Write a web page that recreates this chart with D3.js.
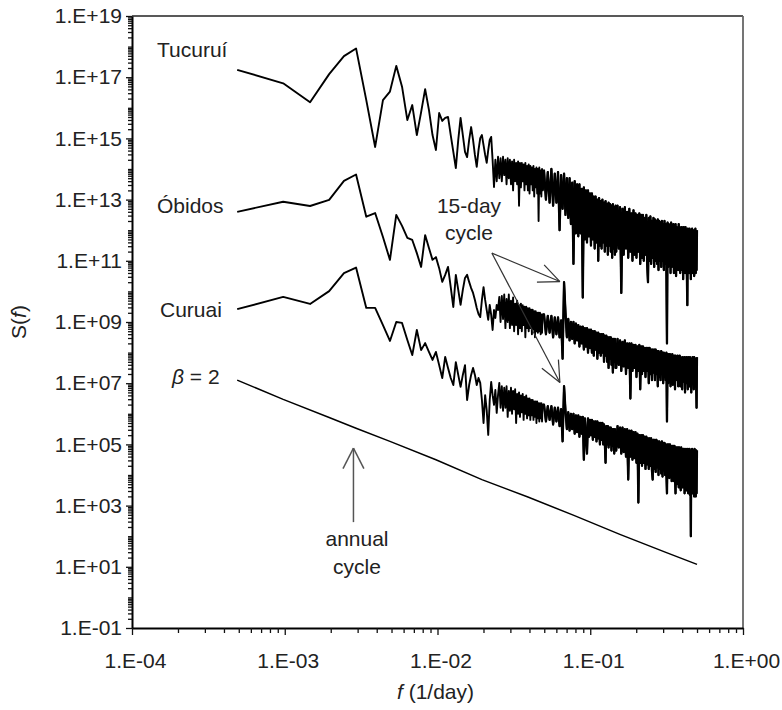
<!DOCTYPE html>
<html><head><meta charset="utf-8">
<script src="https://cdn.jsdelivr.net/npm/d3@7"></script>
<style>
body{margin:0;background:#fff}
text{font-family:"Liberation Sans",Arial,sans-serif;fill:#222}
</style>
</head><body>
<svg id="c" width="782" height="710"></svg>
<script>
// ---------- DATA ----------
// spectra are given as log10 S(f); harmonic k <-> f = k / RECORD_DAYS (1/day)
const RECORD_DAYS = 2048;
const MID_START = 102, MID_STEP = 3;     // harmonics of the "mid" arrays
const HIGH_START = 303, HIGH_STEP = 6;   // harmonics of the "high" arrays

const xTickLabels = ["1.E-04","1.E-03","1.E-02","1.E-01","1.E+00"];
const yTickLabels = ["1.E-01","1.E+01","1.E+03","1.E+05","1.E+07","1.E+09","1.E+11","1.E+13","1.E+15","1.E+17","1.E+19"];
const seriesNames = ["Tucuruí","Óbidos","Curuai"];

// Tucuruí: k = 1..100
const tucLow = [
17.24,16.80,16.18,17.10,17.69,17.94,16.25,14.72,16.25,16.53,
17.37,16.69,15.60,16.09,15.11,15.86,16.61,15.93,15.11,14.62,
15.83,15.57,15.67,15.70,15.11,14.56,14.03,14.95,15.67,15.11,
14.56,14.39,14.95,15.37,14.95,14.46,14.07,14.62,15.01,15.11,
14.78,14.46,14.20,14.62,14.95,15.05,14.29,13.41,14.3,13.6,
14.4,13.7,14.35,13.6,14.4,13.8,14.3,13.5,14.35,13.7,
14.3,13.5,14.25,13.3,14.3,13.6,14.2,13.5,14.25,12.8,
14.2,13.4,14.2,13.6,14.15,13.3,14.2,13.5,14.1,13.3,
14.15,13.2,14.1,13.5,14.05,13.3,14.1,13.1,14.0,13.4,
14.05,13.2,14.0,12.3,14.05,13.2,13.95,13.1,14.0,13.3];
const tucMid = [
13.95,13.0,13.9,12.9,14.0,12.8,13.85,12.9,13.9,12.0,
13.8,12.7,13.85,12.5,13.7,12.4,13.7,12.2,13.55,10.9,
13.6,11.9,13.5,11.8,13.5,11.9,13.35,9.8,13.4,11.7,
13.3,11.6,13.3,11.8,13.2,11.5,13.2,11.7,13.1,11.4,
13.1,11.6,13.0,11.0,13.05,11.5,12.95,11.4,13.0,11.6,
12.9,11.3,12.95,11.5,12.85,11.2,12.9,11.5,12.85,11.3,
12.8,11.1,12.85,11.4,12.75,11.2,12.8];
const tucHigh = [
11.3,12.8,11.4,12.75,9.95,12.7,11.2,12.75,11.4,12.6,
11.1,12.7,11.3,12.55,11.0,12.65,11.2,12.55,11.1,12.5,
11.3,12.55,10.9,12.5,11.1,12.5,11.0,12.4,11.2,12.5,
10.9,10.3,12.4,11.0,12.45,10.9,12.3,11.1,12.4,10.8,
12.35,11.0,12.3,10.9,12.35,10.7,12.3,11.0,12.25,10.8,
12.3,11.0,12.2,10.7,12.3,10.9,12.2,10.9,8.3,12.25,
10.8,12.2,10.9,12.15,10.6,12.25,10.8,12.1,10.9,12.2,
10.6,12.1,10.9,12.2,10.5,12.1,10.8,12.05,10.7,12.2,
10.8,12.1,10.6,12.0,10.9,12.1,10.7,12.0,10.4,12.1,
10.8,12.0,10.6,12.1,10.8,11.95,10.5,9.55,12.05,10.8,
12.0,10.6,12.05,10.8,11.95,10.4,12.0,10.7,12.05,10.6,
12.0,10.8,11.95,10.5,12.0,10.7,12.05,10.6,11.95,10.7,12.0];

// Óbidos
const obiLow = [
12.60,12.93,12.79,12.99,13.61,13.82,12.44,12.56,11.78,11.03,
12.50,12.14,11.75,11.68,11.25,10.80,11.84,11.42,11.03,11.12,
10.76,10.31,10.54,10.80,10.14,9.49,10.54,10.05,9.56,10.05,
10.44,10.54,10.31,10.11,9.95,9.72,9.46,9.26,9.16,9.72,
10.14,9.72,9.39,9.07,9.56,9.23,8.74,9.39,9.13,9.56,
9.39,9.82,9.0,9.85,9.1,9.9,8.8,9.75,9.0,9.9,
8.8,9.7,8.9,9.8,8.7,9.6,8.9,9.7,8.6,9.55,
8.8,9.6,8.7,9.55,8.9,9.5,8.5,9.5,8.8,9.45,
8.7,9.45,8.8,9.4,8.6,9.4,8.75,9.35,8.5,9.35,
8.7,9.3,8.65,9.3,8.7,9.3,8.6,9.25,8.65,9.25];
const obiMid = [
9.25,8.6,9.2,8.65,9.2,8.5,9.15,8.6,9.15,8.5,
9.05,7.8,10.3,9.3,8.5,9.1,8.4,9.0,8.45,9.0,
8.3,8.95,8.4,8.9,8.2,8.85,8.3,8.85,8.1,8.8,
8.2,8.8,8.0,8.75,8.15,8.75,8.0,8.7,7.9,8.7,
8.1,8.65,7.8,8.65,8.0,8.6,7.9,8.6,8.0,8.6,
7.7,8.55,7.9,8.55,7.7,8.5,7.5,8.5,7.8,8.5,
7.6,8.45,7.35,8.45,7.7,8.45,7.5];
const obiHigh = [
7.5,8.45,7.6,8.4,7.4,8.35,7.55,8.4,7.3,8.3,
7.5,8.3,6.5,8.3,7.4,8.25,7.5,8.25,7.2,8.2,
7.4,8.25,6.8,8.2,7.3,8.2,7.4,8.15,7.2,8.15,
7.4,8.15,7.0,8.15,7.3,8.1,7.1,8.1,7.35,8.1,
7.1,8.1,7.3,8.05,6.9,8.05,7.2,8.0,7.1,8.05,
7.3,8.0,7.0,8.0,7.2,7.95,7.1,8.0,5.75,7.95,
7.0,7.95,7.2,7.95,6.9,7.9,7.1,7.95,6.95,7.9,
7.2,7.9,6.8,7.9,7.1,7.85,7.2,7.9,6.9,7.85,
7.1,7.9,6.9,7.85,7.2,7.8,6.8,7.85,7.05,7.8,
7.2,7.85,6.7,7.8,7.0,7.85,7.1,7.8,6.8,7.85,
7.0,7.8,6.9,7.85,7.1,7.8,6.7,7.8,7.0,7.85,
7.1,7.8,6.8,7.85,7.0,7.8,6.9,7.8,7.0,6.2,7.85];

// Curuai
const curLow = [
9.42,9.82,9.59,10.01,10.60,10.78,9.46,9.46,8.90,8.38,
9.00,8.97,8.41,7.92,8.74,8.08,8.31,8.02,7.76,8.02,
7.59,7.17,7.86,7.50,7.17,6.94,7.69,7.27,6.88,7.27,
7.59,6.45,6.94,7.27,7.50,7.27,6.94,7.17,7.01,6.45,
5.70,6.61,6.12,5.31,6.45,7.04,6.61,6.29,6.78,6.03,
6.61,7.01,6.2,6.9,6.1,6.85,6.2,6.9,5.9,6.75,
6.1,6.85,6.0,6.75,6.15,6.8,5.7,6.65,6.0,6.7,
5.9,6.6,6.05,6.65,5.8,6.55,6.0,6.6,5.85,6.5,
5.95,6.5,5.8,6.45,5.95,6.45,5.8,6.4,5.9,6.4,
5.7,6.4,5.85,6.35,5.75,6.35,5.85,6.35,5.75,6.3];
const curMid = [
6.3,5.75,6.25,5.8,6.25,5.65,6.2,5.75,6.2,5.6,
6.15,5.1,6.9,6.1,5.5,6.05,5.45,6.0,5.5,6.0,
5.35,5.95,5.4,5.95,5.25,5.9,5.35,5.9,4.5,5.85,
5.3,4.7,5.85,5.25,5.8,5.3,5.8,5.15,5.75,5.25,
5.75,5.1,5.75,5.2,5.7,5.0,5.7,5.15,5.7,5.0,
5.65,5.1,4.4,5.6,5.0,5.6,4.9,5.55,5.0,5.55,
4.8,5.5,4.95,5.5,4.7,5.5,4.9];
const curHigh = [
4.8,5.6,4.9,5.55,4.7,5.55,4.75,5.5,4.6,5.5,
3.85,5.45,4.6,5.45,4.5,5.4,4.55,5.4,4.4,5.35,
3.1,5.3,4.4,5.3,4.3,5.3,4.4,5.25,4.2,5.25,
4.35,5.2,4.2,5.2,4.3,5.2,4.15,3.85,5.15,4.2,
5.15,4.1,5.15,4.25,5.1,4.0,5.1,4.2,5.05,4.05,
5.1,3.95,5.05,4.15,5.05,4.0,5.0,4.1,3.4,5.0,
4.0,5.0,3.9,5.0,4.05,4.95,3.8,4.95,4.0,4.95,
3.8,4.95,3.9,3.4,4.9,3.7,4.9,3.9,4.9,3.6,
4.9,3.8,4.85,3.5,4.9,3.7,4.85,3.6,4.85,3.75,
4.85,3.4,4.8,3.7,4.85,3.5,4.8,3.75,4.85,3.4,
4.8,3.6,4.85,3.35,4.8,2.0,4.8,3.5,4.85,3.4,
4.8,3.6,4.8,3.3,4.85,3.5,4.8,3.3,4.8,3.4,4.8];

// beta = 2 reference spectrum (harmonic k, log10 S)
const betaK   = [1,2,4,6,10,20,40,80,160,320,640,1024];
const betaVal = [7.10,6.47,5.88,5.53,5.10,4.50,3.85,3.28,2.68,2.06,1.47,1.08];

// ---------- CHART ----------
const svg = d3.select("#c");
const L = 132, R = 743, T = 16, B = 628;
const x = d3.scaleLog().domain([1e-4, 1]).range([L, R]);
const y = d3.scaleLog().domain([1e-1, 1e19]).range([B, T]);

function build(low, mid, high){
  const pts = [];
  low.forEach((v,i)=>pts.push([(i+1)/RECORD_DAYS, v]));
  mid.forEach((v,i)=>pts.push([(MID_START+MID_STEP*i)/RECORD_DAYS, v]));
  high.forEach((v,i)=>pts.push([(HIGH_START+HIGH_STEP*i)/RECORD_DAYS, v]));
  return pts;
}
const lows = [tucLow, obiLow, curLow];
const series = [build(tucLow,tucMid,tucHigh), build(obiLow,obiMid,obiHigh), build(curLow,curMid,curHigh)];
const betaPts = betaK.map((k,i)=>[k/RECORD_DAYS, betaVal[i]]);

const line = d3.line().x(d=>x(d[0])).y(d=>y(Math.pow(10,d[1])));

// frame (top/right)
svg.append("line").attr("x1",L).attr("x2",R).attr("y1",T).attr("y2",T).attr("stroke","#222").attr("stroke-width",1.6);
svg.append("line").attr("x1",R).attr("x2",R).attr("y1",T).attr("y2",B).attr("stroke","#666").attr("stroke-width",1.8);

// series: whole curve, then the densely sampled part again with a wider pen (solid noise band)
svg.append("g").selectAll("path").data(series).join("path")
  .attr("d", line).attr("fill","none").attr("stroke","#000")
  .attr("stroke-width",1.9).attr("stroke-linejoin","round");
svg.append("g").selectAll("path").data(series.map((s,i)=>s.slice(lows[i].length-1))).join("path")
  .attr("d", line).attr("fill","none").attr("stroke","#000")
  .attr("stroke-width",2.3).attr("stroke-linejoin","round");
svg.append("path").attr("d", line(betaPts)).attr("fill","none").attr("stroke","#000").attr("stroke-width",1.5);

// axes
const yMajor = d3.range(-1,20,2).map(e=>Math.pow(10,e));
const yMinor = [];
for(let e=-1;e<19;e++){ for(let m=2;m<=9;m++) yMinor.push(m*Math.pow(10,e)); if(e>-1 && e%2===0) yMinor.push(Math.pow(10,e)); }
const xMajor = d3.range(-4,1).map(e=>Math.pow(10,e));
const xMinor = [];
for(let e=-4;e<0;e++){ for(let m=2;m<=9;m++) xMinor.push(m*Math.pow(10,e)); }

const gy = svg.append("g").attr("transform",`translate(${L},0)`)
  .call(d3.axisLeft(y).tickValues(yMajor).tickFormat((d,i)=>yTickLabels[i]).tickSize(6).tickSizeOuter(0).tickPadding(4));
const gy2 = svg.append("g").attr("transform",`translate(${L},0)`)
  .call(d3.axisLeft(y).tickValues(yMinor).tickFormat("").tickSize(4).tickSizeOuter(0));
gy2.select(".domain").remove();
const gx = svg.append("g").attr("transform",`translate(0,${B})`)
  .call(d3.axisBottom(x).tickValues(xMajor).tickFormat((d,i)=>xTickLabels[i]).tickSize(7).tickSizeOuter(0).tickPadding(18));
const gx2 = svg.append("g").attr("transform",`translate(0,${B})`)
  .call(d3.axisBottom(x).tickValues(xMinor).tickFormat("").tickSize(5).tickSizeOuter(0));
gx2.select(".domain").remove();
[gy,gy2,gx,gx2].forEach(g=>{
  g.attr("font-family",null).attr("font-size",null);
  g.selectAll("line").attr("stroke","#111").attr("stroke-width",1.3);
  g.selectAll(".domain").attr("stroke","#000").attr("stroke-width",2);
  g.selectAll("text").attr("font-size","21px").attr("fill","#222");
});
gx.selectAll("text").attr("dx",3);

// axis titles
const xt = svg.append("text").attr("x",397).attr("y",699).attr("font-size","21px");
xt.append("tspan").attr("font-style","italic").text("f");
xt.append("tspan").text(" (1/day)");
const yt = svg.append("text").attr("transform","translate(26,322) rotate(-90)").attr("text-anchor","middle").attr("font-size","21px");
yt.append("tspan").text("S(");
yt.append("tspan").attr("font-style","italic").text("f");
yt.append("tspan").text(")");

// series labels
const lab = [[157,57],[157,213],[160,317]];
seriesNames.forEach((n,i)=>svg.append("text").attr("x",lab[i][0]).attr("y",lab[i][1]).attr("font-size","21px").text(n));
const bt = svg.append("text").attr("x",172).attr("y",384).attr("font-size","21px");
bt.append("tspan").attr("font-style","italic").text("β");
bt.append("tspan").text(" = 2");

// annotations
function arrow(x1,y1,x2,y2,len,ang,color,w){
  svg.append("line").attr("x1",x1).attr("y1",y1).attr("x2",x2).attr("y2",y2).attr("stroke",color).attr("stroke-width",w);
  const a = Math.atan2(y1-y2, x1-x2);
  [ang,-ang].forEach(s=>{
    svg.append("line").attr("x1",x2).attr("y1",y2)
      .attr("x2",x2+len*Math.cos(a+s)).attr("y2",y2+len*Math.sin(a+s))
      .attr("stroke",color).attr("stroke-width",w);
  });
}
const fdTail = [0.0227, 1.78e11], fdTips = [[0.0633,2.1e10],[0.0633,1.05e7]];
fdTips.forEach(t=>arrow(x(fdTail[0]),y(fdTail[1]),x(t[0]),y(t[1]),23,24*Math.PI/180,"#333",1.2));
svg.append("text").attr("x",469).attr("y",213).attr("text-anchor","middle").attr("font-size","21px").text("15-day");
svg.append("text").attr("x",469).attr("y",240).attr("text-anchor","middle").attr("font-size","21px").text("cycle");

const annF = 1/355;
arrow(x(annF), y(Math.pow(10,2.46)), x(annF), y(Math.pow(10,4.88)), 23, 27*Math.PI/180, "#555", 1.5);
svg.append("text").attr("x",357).attr("y",546).attr("text-anchor","middle").attr("font-size","21px").text("annual");
svg.append("text").attr("x",357).attr("y",574).attr("text-anchor","middle").attr("font-size","21px").text("cycle");
</script>
</body></html>
